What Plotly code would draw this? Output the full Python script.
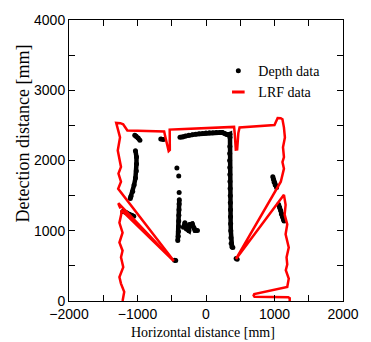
import plotly.graph_objects as go

# LRF scan outline (mm); None separates two drawn pieces
lrf_x = [-1218, -1194, -1241, -1264, -1208, -1241, -1218, -1264, -1218, -1264, -1238, -1232,
         -470, -1280, -1268, -1248,
         None,
         -474, -1282, -1241, -1278, -1241, -1264, -1288, -1255, -1300, -1311, -1250, -1209, -1170,
         -1148, -1000, -800, -640, -611, -585, -562, -545, -528, -524, -530, -400, -200, 0, 200,
         410, 420, 427, 435, 455, 465, 472, 490, 700, 900, 1000, 1046, 1090, 1116, 1138, 1152,
         1124, 1138, 1116, 1138, 1116, 1092, 438, 1138, 1162, 1148, 1186, 1162, 1208, 1176, 1186,
         1165, 1208, 1186, 705, 695, 708, 1200, 1222, 1222]
lrf_y = [0, 130, 248, 341, 481, 622, 716, 832, 973, 1113, 1230, 1290,
         568, 1392, 1360, 1318,
         None,
         578, 1598, 1698, 1814, 1908, 2048, 2142, 2329, 2470, 2535, 2532, 2516, 2460,
         2428, 2424, 2422, 2420, 2414, 2300, 2170, 2135, 2150, 2300, 2440, 2446, 2455, 2462, 2470,
         2478, 2380, 2270, 2155, 2158, 2280, 2390, 2470, 2482, 2492, 2506, 2605, 2602, 2588, 2469, 2329,
         2189, 2048, 1978, 1884, 1791, 1698, 598, 1511, 1370, 1230, 1090, 950, 762, 622, 520,
         440, 318, 201, 100, 80, 60, 55, 40, 0]

# Depth camera points (mm); None separates clusters
depth_x = [-1040, -1020, -990, -965, None,
           -660, -620, None,
           -380, -340, -300, -250, -200, -150, -100, -50, 0, 50, 100, 150, 200, 240, 270, 300, 330, 350,
           350, 348, 346, 345, 347, 348, 350, 352, 354, 355, 357, 358, 360, 362, 364, 367, 380, 392, None,
           -1030, -1015, -1015, -1017, -1030, -1050, -1070, -1095, -1105, None,
           -1215, -1190, -1160, -1120, -1085, -1055, None,
           -425, None, -398, None, -392, None,
           -390, -392, -394, -396, -398, -400, -402, -405, -412, None,
           -330, -308, -300, -285, -250, -238, -200, -175, -160, -125, None,
           -458, -442, None,
           440, 455, None,
           975, 985, 995, 1010, 1030, None,
           1060, 1075, 1090, 1100, 1115, 1130, 1140]
depth_y = [2360, 2345, 2320, 2290, None,
           2305, 2300, None,
           2330, 2335, 2350, 2360, 2365, 2375, 2380, 2385, 2390, 2395, 2395, 2398, 2400, 2400, 2385, 2370, 2365, 2375,
           2330, 2200, 2100, 2000, 1900, 1800, 1700, 1600, 1500, 1400, 1300, 1200, 1100, 1000, 900, 820, 770, 760, None,
           2140, 2050, 1950, 1850, 1750, 1650, 1560, 1490, 1460, None,
           1275, 1270, 1255, 1235, 1220, 1205, None,
           1895, None, 1780, None, 1545, None,
           1440, 1380, 1300, 1220, 1140, 1060, 990, 920, 860, None,
           1050, 1113, 1075, 1025, 1000, 1090, 1100, 1040, 1005, 1005, None,
           580, 575, None,
           605, 595, None,
           1770, 1730, 1690, 1650, 1615, None,
           1375, 1330, 1290, 1240, 1200, 1160, 1140]

tick_vals = [-2000, -1500, -1000, -500, 0, 500, 1000, 1500, 2000]
x_tick_text = ["\u22122000", "", "\u22121000", "", "0", "", "1000", "", "2000"]
y_tick_vals = [0, 500, 1000, 1500, 2000, 2500, 3000, 3500, 4000]
y_tick_text = ["0", "", "1000", "", "2000", "", "3000", "", "4000"]

serif = "Liberation Serif, Times New Roman, serif"
sans = "Liberation Sans, Arial, sans-serif"

fig = go.Figure()
fig.add_trace(go.Scatter(x=depth_x, y=depth_y, mode="lines",
                         line=dict(color="black", width=4.5),
                         showlegend=False, hoverinfo="skip", connectgaps=False))
fig.add_trace(go.Scatter(x=depth_x, y=depth_y, mode="markers", name="Depth data",
                         marker=dict(color="black", size=5)))
fig.add_trace(go.Scatter(x=lrf_x, y=lrf_y, mode="lines", name="LRF data",
                         line=dict(color="#ff0000", width=2.5), connectgaps=False,
                         showlegend=False))
fig.add_trace(go.Scatter(x=[None], y=[None], mode="markers", name="LRF data",
                         marker=dict(symbol="line-ew", size=9,
                                     line=dict(color="#ff0000", width=3))))

axis_common = dict(showgrid=False, zeroline=False, showline=True, linecolor="black",
                   linewidth=1, mirror="ticks", ticks="inside", ticklen=6,
                   tickcolor="black", tickwidth=1,
                   tickfont=dict(family=sans, size=14, color="black"))

fig.update_layout(
    width=371, height=342,
    margin=dict(l=69, r=16, t=16, b=41),
    paper_bgcolor="white", plot_bgcolor="white",
    xaxis=dict(range=[-2000, 2000], tickmode="array", tickvals=tick_vals,
               ticktext=x_tick_text, **axis_common),
    yaxis=dict(range=[0, 4000], tickmode="array", tickvals=y_tick_vals,
               ticktext=y_tick_text, **axis_common),
    legend=dict(x=0.545, y=0.875, xanchor="left", yanchor="top",
                bgcolor="rgba(0,0,0,0)", font=dict(family=serif, size=14, color="black"),
                tracegroupgap=0),
    annotations=[
        dict(text="Horizontal distance [mm]", xref="paper", yref="paper",
             x=0.49, y=-0.112, xanchor="center", yanchor="middle", showarrow=False,
             font=dict(family=serif, size=14, color="black")),
        dict(text="Detection distance [mm]", xref="paper", yref="paper",
             x=-0.168, y=0.596, xanchor="center", yanchor="middle", showarrow=False,
             textangle=-90, font=dict(family=serif, size=18, color="black")),
    ],
)

fig.write_html("out.html", config={"displayModeBar": False},
               post_script="document.body.style.margin='0';document.body.style.padding='0';")
